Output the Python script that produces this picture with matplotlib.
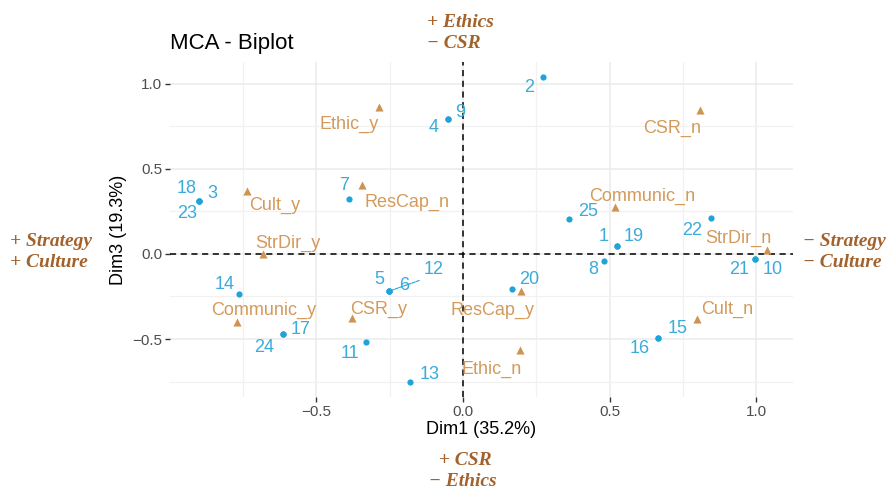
import matplotlib
matplotlib.use("Agg")
import matplotlib.pyplot as plt
import numpy as np

plt.rcParams['font.family'] = ['Liberation Sans', 'DejaVu Sans']

# individuals (rows) on Dim1 / Dim3
ind_labels = ["2", "9", "4", "18", "3", "23", "7", "25", "22", "1", "19", "8",
              "21", "10", "20", "15", "16", "14", "5", "6", "12", "17", "24",
              "11", "13"]
ind_dim1 = [0.273, -0.051, -0.051, -0.900, -0.900, -0.900, -0.389, 0.362, 0.845,
            0.526, 0.526, 0.482, 0.997, 0.997, 0.168, 0.666, 0.666, -0.763,
            -0.251, -0.251, -0.251, -0.613, -0.613, -0.332, -0.180]
ind_dim3 = [1.040, 0.794, 0.794, 0.310, 0.310, 0.310, 0.325, 0.206, 0.214,
            0.049, 0.049, -0.041, -0.028, -0.028, -0.204, -0.494, -0.494, -0.233,
            -0.218, -0.218, -0.218, -0.472, -0.472, -0.516, -0.755]

# variable categories
var_labels = ["Ethic_y", "CSR_n", "Cult_y", "ResCap_n", "Communic_n", "StrDir_y",
              "StrDir_n", "Communic_y", "CSR_y", "ResCap_y", "Ethic_n", "Cult_n"]
var_dim1 = [-0.288, 0.808, -0.737, -0.344, 0.519, -0.683,
            1.035, -0.769, -0.378, 0.198, 0.196, 0.799]
var_dim3 = [0.866, 0.847, 0.372, 0.406, 0.276, -0.002,
            0.024, -0.402, -0.378, -0.218, -0.565, -0.380]

# label offsets in pixels (repelled placement)
ind_offsets = {"2": (-14, -10), "9": (12, 6), "4": (-14, -9), "18": (-12, 13),
               "3": (13, 8), "23": (-12, -12), "7": (-5, 13), "25": (19, 7),
               "22": (-19, -13), "1": (-14, 9), "19": (16, 9), "8": (-11, -9),
               "21": (-16, -11), "10": (17, -11), "20": (17, 9), "15": (19, 9),
               "16": (-19, -11), "14": (-15, 9), "5": (-10, 12), "6": (15, 6),
               "12": (44, 22), "17": (17, 5), "24": (-19, -13), "11": (-16, -12),
               "13": (19, 8)}
var_offsets = {"Ethic_y": (-29, -18), "CSR_n": (-28, -18), "Cult_y": (28, -15),
               "ResCap_n": (45, -17), "Communic_n": (27, 11), "StrDir_y": (25, 11),
               "StrDir_n": (-28, 11), "Communic_y": (26, 12), "CSR_y": (27, 9),
               "ResCap_y": (-29, -19), "Ethic_n": (-29, -19), "Cult_n": (30, 9)}

blue = "#1FA3D8"
blue_txt = "#3AABDB"
orange = "#D0924F"
orange_txt = "#D49A5C"
brown = "#A3622B"

fig = plt.figure(figsize=(8.88, 4.9), dpi=100)
ax = fig.add_axes([0.1914, 0.1898, 0.7016, 0.6837])

ax.set_xlim(-0.999, 1.125)
ax.set_ylim(-0.841, 1.129)
ax.set_xticks([-0.5, 0.0, 0.5, 1.0])
ax.set_xticklabels(["\u22120.5", "0.0", "0.5", "1.0"])
ax.set_yticks([-0.5, 0.0, 0.5, 1.0])
ax.set_yticklabels(["\u22120.5", "0.0", "0.5", "1.0"])
ax.set_xticks([-0.75, -0.25, 0.25, 0.75], minor=True)
ax.set_yticks([-0.75, -0.25, 0.25, 0.75], minor=True)
ax.grid(which="major", color="#EBEBEB", lw=1.1)
ax.grid(which="minor", color="#F1F1F1", lw=0.9)
ax.set_axisbelow(True)
for s in ax.spines.values():
    s.set_visible(False)
ax.tick_params(which="major", length=3.5, width=1, color="#333333",
               labelsize=11, labelcolor="#4D4D4D", pad=2)
ax.tick_params(which="minor", length=0)

ax.axhline(0, color="black", lw=1.1, ls=(0, (4, 3)), zorder=1)
ax.axvline(0, color="black", lw=1.1, ls=(0, (4, 3)), zorder=1)

ax.scatter(ind_dim1, ind_dim3, s=20, color=blue, zorder=3, linewidths=0)
ax.scatter(var_dim1, var_dim3, s=34, marker="^", color=orange, zorder=3, linewidths=0)

for lab, x, y in zip(ind_labels, ind_dim1, ind_dim3):
    dx, dy = ind_offsets[lab]
    arrow = None
    if lab == "12":
        # leader segment for the repelled label
        arrow = dict(arrowstyle="-", color=blue, lw=0.8, ls=(0, (3, 1)),
                     shrinkA=1, shrinkB=1, relpos=(0.45, 0.1))
    ax.annotate(lab, (x, y), xytext=(dx, dy), textcoords="offset pixels",
                ha="center", va="center", fontsize=13, color=blue_txt,
                arrowprops=arrow, zorder=4)

for lab, x, y in zip(var_labels, var_dim1, var_dim3):
    dx, dy = var_offsets[lab]
    ax.annotate(lab, (x, y), xytext=(dx, dy), textcoords="offset pixels",
                ha="center", va="center", fontsize=13, color=orange_txt, zorder=4)

ax.set_xlabel("Dim1 (35.2%)", fontsize=13, color="black", labelpad=2)
ax.set_ylabel("Dim3 (19.3%)", fontsize=13, color="black", labelpad=4)
fig.text(0.1914, 0.911, "MCA - Biplot", fontsize=16, ha="left", va="center")

# interpretation of the axis directions
side = dict(fontsize=14, family="Liberation Serif", weight="bold", style="italic",
            color=brown, ha="left", va="center", linespacing=1.25)
fig.text(427 / 888, 1 - 33 / 490, "+ Ethics\n\u2212 CSR", **side)
fig.text(10 / 888, 1 - 252 / 490, "+ Strategy\n+ Culture", **side)
fig.text(803 / 888, 1 - 252 / 490, "\u2212 Strategy\n\u2212 Culture", **side)
fig.text(429 / 888, 1 - 471 / 490, "  + CSR\n\u2212 Ethics", **side)

fig.savefig("out.png", dpi=100, facecolor="white")
